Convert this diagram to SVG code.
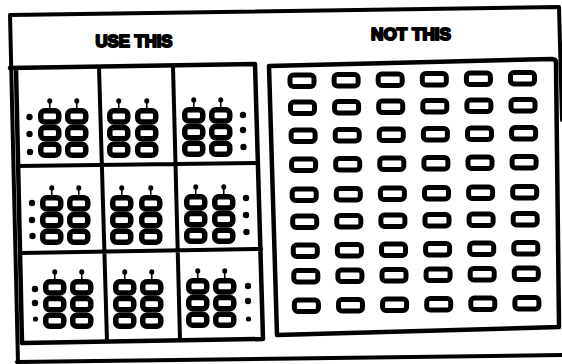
<svg xmlns="http://www.w3.org/2000/svg" xmlns:xlink="http://www.w3.org/1999/xlink" width="562" height="364" viewBox="0 0 562 364">
<style>
.ln{fill:none;stroke:#000;stroke-linejoin:round;stroke-linecap:round}
.stk rect{fill:#fff;stroke:#000;stroke-width:5.5}
.dot{fill:#000}
.key rect{fill:#fff;stroke:#000;stroke-width:5}
.hd{font-family:"Liberation Sans",Arial,sans-serif;font-weight:bold;font-size:17px;fill:#000;stroke:#000;stroke-width:2;stroke-linejoin:round;text-anchor:middle}
</style>
<defs>
<g id="stk" class="stk">
<rect x="2.75" y="2.75" width="18" height="11.2" rx="4"/>
<rect x="2.75" y="19.45" width="18" height="11.2" rx="4"/>
<rect x="2.75" y="36.15" width="18" height="11.2" rx="4"/>
<ellipse cx="11.75" cy="-7" rx="2.5" ry="2.8" fill="#000"/>
<line x1="11.75" y1="-5" x2="11.75" y2="0.5" stroke="#000" stroke-width="1.6"/>
</g>
<g id="krow" class="key">
<rect x="290" y="0" width="24" height="11.5" rx="3.5"/>
<rect x="334.1" y="-0.5" width="24" height="11.5" rx="3.5"/>
<rect x="378.2" y="-1" width="24" height="11.5" rx="3.5"/>
<rect x="422.3" y="-1.5" width="24" height="11.5" rx="3.5"/>
<rect x="466.4" y="-2" width="24" height="11.5" rx="3.5"/>
<rect x="510.5" y="-2.5" width="24" height="11.5" rx="3.5"/>
</g>
</defs>
<rect width="562" height="364" fill="#fff"/>

<g id="frame">
<path class="ln" stroke-width="4" d="M18,363 L10,15 L559,7 L562,120"/>
<path class="ln" stroke-width="4" d="M17,362 L562,355"/>
</g>

<g id="use-this">
<text class="hd" x="134" y="46.5" textLength="77" lengthAdjust="spacingAndGlyphs">USE THIS</text>
<path class="ln" stroke-width="4.5" d="M10,68 L255,64 L263,339 L22,343 L16,68"/>
<path class="ln" stroke-width="4" d="M99,67 L107,341 M173,66 L180,340 M18,166 L258,163 M21,253 L261,249"/>
<g id="cell-1-1">
<use xlink:href="#stk" x="38" y="108"/><use xlink:href="#stk" x="65" y="108"/>
<circle class="dot" cx="29.5" cy="117" r="3.2"/><circle class="dot" cx="29.5" cy="134" r="3.2"/><circle class="dot" cx="30" cy="152" r="3.2"/>
</g>
<g id="cell-1-2">
<use xlink:href="#stk" x="107" y="108"/><use xlink:href="#stk" x="135" y="108"/>
</g>
<g id="cell-1-3">
<use xlink:href="#stk" x="182" y="107"/><use xlink:href="#stk" x="209" y="107"/>
<circle class="dot" cx="243" cy="115" r="3.2"/><circle class="dot" cx="243" cy="130" r="3.2"/><circle class="dot" cx="243.5" cy="147" r="3.2"/>
</g>
<g id="cell-2-1">
<use xlink:href="#stk" x="40" y="195"/><use xlink:href="#stk" x="67" y="195"/>
<circle class="dot" cx="32" cy="203" r="3.2"/><circle class="dot" cx="32" cy="220" r="3.2"/><circle class="dot" cx="32.5" cy="236" r="3.2"/>
</g>
<g id="cell-2-2">
<use xlink:href="#stk" x="110" y="195"/><use xlink:href="#stk" x="139" y="195"/>
</g>
<g id="cell-2-3">
<use xlink:href="#stk" x="184" y="194"/><use xlink:href="#stk" x="212" y="194"/>
<circle class="dot" cx="246" cy="198" r="3.2"/><circle class="dot" cx="246" cy="215" r="3.2"/><circle class="dot" cx="246.5" cy="232" r="3.2"/>
</g>
<g id="cell-3-1">
<use xlink:href="#stk" x="43" y="279"/><use xlink:href="#stk" x="70" y="279"/>
<circle class="dot" cx="35" cy="289" r="3.2"/><circle class="dot" cx="35" cy="303" r="3.2"/><circle class="dot" cx="35.5" cy="319" r="2.6"/>
</g>
<g id="cell-3-2">
<use xlink:href="#stk" x="113" y="279"/><use xlink:href="#stk" x="140" y="279"/>
</g>
<g id="cell-3-3">
<use xlink:href="#stk" x="186" y="278"/><use xlink:href="#stk" x="213" y="278"/>
<circle class="dot" cx="248" cy="286" r="3.2"/><circle class="dot" cx="248" cy="301" r="3.2"/><circle class="dot" cx="248.5" cy="319" r="2.6"/>
</g>
</g>

<g id="not-this">
<text class="hd" x="411" y="40" textLength="80" lengthAdjust="spacingAndGlyphs">NOT THIS</text>
<path class="ln" stroke-width="4.5" d="M269,66 L552,59 Q556,59 556,63 L559,327 L277,335 Z"/>
<use xlink:href="#krow" x="0" y="75"/>
<use xlink:href="#krow" x="0.5" y="102"/>
<use xlink:href="#krow" x="1.1" y="130"/>
<use xlink:href="#krow" x="1.6" y="159"/>
<use xlink:href="#krow" x="2.2" y="189"/>
<use xlink:href="#krow" x="2.7" y="216"/>
<use xlink:href="#krow" x="3.3" y="245"/>
<use xlink:href="#krow" x="3.8" y="270.5"/>
<use xlink:href="#krow" x="4.4" y="300"/>
</g>
</svg>
